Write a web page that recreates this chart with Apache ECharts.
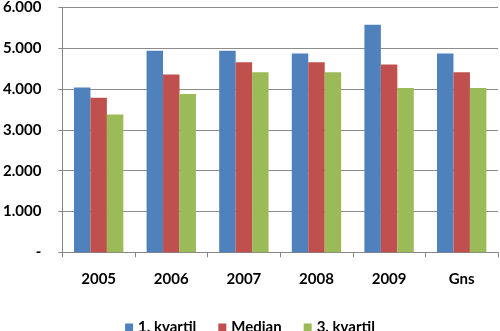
<!DOCTYPE html>
<html><head><meta charset="utf-8">
<script src="https://cdn.jsdelivr.net/npm/echarts@6/dist/echarts.min.js"></script>
<style>html,body{margin:0;padding:0;background:#fff}#c{width:500px;height:331px}</style>
</head><body><div id="c"></div>
<script>
const categories = ['2005','2006','2007','2008','2009','Gns'];
const seriesNames = ['1. kvartil','Median','3. kvartil'];
const q1 = [4040, 4940, 4940, 4870, 5580, 4870];
const median = [3790, 4360, 4660, 4660, 4600, 4410];
const q3 = [3380, 3880, 4410, 4410, 4030, 4030];
const colors = ['#4F81BD','#C0504D','#9BBB59'];
const fontFamily = 'Lato, "Open Sans", sans-serif';
const chart = echarts.init(document.getElementById('c'), null, {renderer:'canvas'});
const vals = [q1, median, q3];
chart.setOption({
  animation:false,
  grid:{left:56, right:2, top:3.5, bottom:78.7, containLabel:false},
  legend:{
    data: seriesNames, top: 315, left: 'center', itemWidth: 8, itemHeight: 8, itemGap: 22,
    icon:'rect',
    textStyle:{fontFamily, fontWeight:'bold', fontSize:15, color:'#000', padding:[0,0,0,0]}
  },
  xAxis:{
    type:'category', data:categories,
    axisLine:{lineStyle:{color:'#868686'}},
    axisTick:{show:true, length:5, lineStyle:{color:'#868686'}},
    axisLabel:{fontFamily, fontWeight:'bold', fontSize:15, color:'#000', margin:19}
  },
  yAxis:{
    type:'value', min:0, max:6000, interval:1000,
    axisLine:{show:true, lineStyle:{color:'#868686'}},
    axisTick:{show:true, length:4, lineStyle:{color:'#868686'}},
    splitLine:{lineStyle:{color:'#8c8c8c'}},
    axisLabel:{fontFamily, fontWeight:'bold', fontSize:15, color:'#000', margin:21,
      padding:[6,0,0,0],
      formatter: v => v === 0 ? '-' : (v/1000).toFixed(3)}
  },
  series: seriesNames.map((n,i)=>({
    name:n, type:'bar', data: vals[i], barGap:'0%', barCategoryGap:'32%',
    itemStyle:{color:colors[i]}
  }))
});
</script></body></html>
